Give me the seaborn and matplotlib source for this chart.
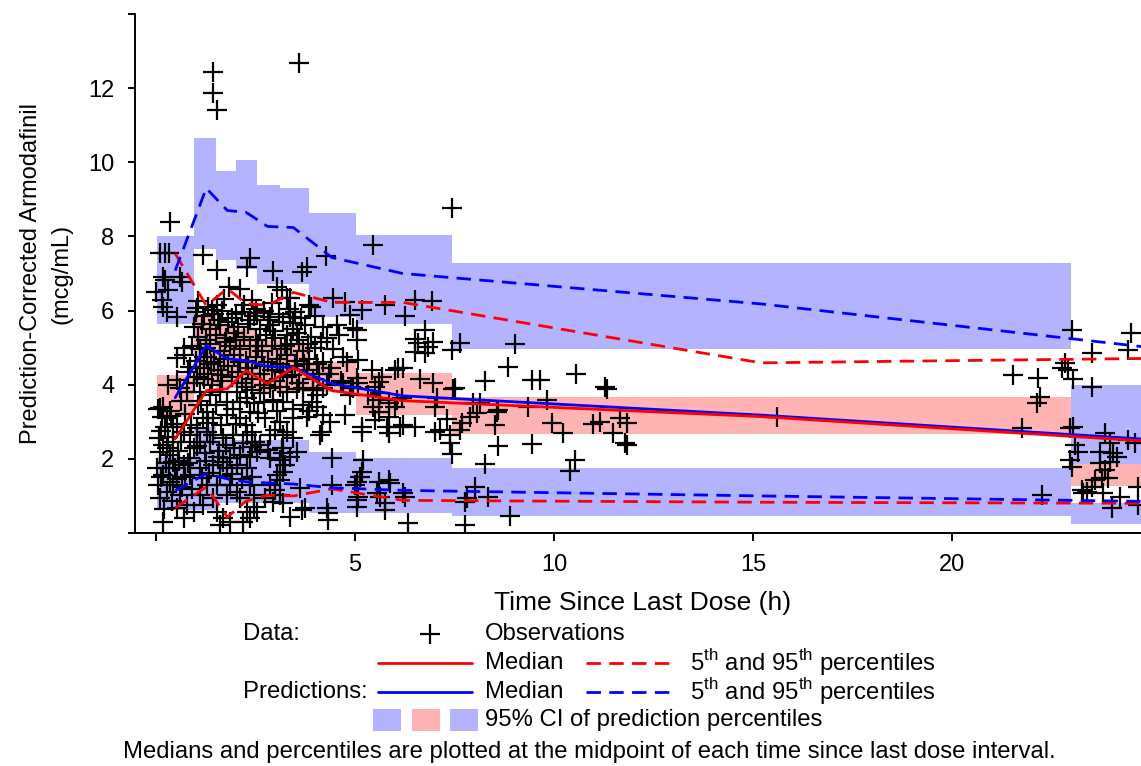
import numpy as np
import pandas as pd
import matplotlib
matplotlib.use("Agg")
import matplotlib.pyplot as plt
import seaborn as sns
from matplotlib.lines import Line2D
from matplotlib.patches import Rectangle

# ---------------- data ----------------
# time-since-last-dose bins (h)
bin_lo = [0.03, 0.96, 1.51, 2.01, 2.54, 3.12, 3.84, 5.02, 7.43, 22.98]
bin_hi = [0.96, 1.51, 2.01, 2.54, 3.12, 3.84, 5.02, 7.43, 22.98, 27.0]
# 95% CI of predicted 95th percentile
ci95_lo = [5.65, 7.65, 7.36, 7.12, 6.73, 6.73, 5.83, 5.65, 4.95, 1.86]
ci95_hi = [8.00, 10.65, 9.76, 10.05, 9.40, 9.30, 8.62, 8.03, 7.27, 4.00]
# 95% CI of predicted median
ci50_lo = [3.14, 4.00, 3.90, 3.90, 3.80, 3.80, 3.80, 3.18, 2.68, 1.27]
ci50_hi = [4.26, 5.90, 5.60, 5.50, 5.20, 5.10, 4.60, 4.31, 3.68, 1.86]
# 95% CI of predicted 5th percentile
ci05_lo = [0.62, 0.62, 0.81, 0.80, 0.80, 0.80, 0.54, 0.54, 0.46, 0.24]
ci05_hi = [2.06, 2.85, 2.50, 2.50, 2.50, 2.50, 2.19, 2.03, 1.76, 0.81]

# bin midpoints and summary lines
line_time = [0.48, 1.26, 1.79, 2.26, 2.80, 3.45, 4.42, 6.20, 15.20, 25.00]
obs_med = [2.54, 3.84, 3.89, 4.38, 4.03, 4.46, 3.84, 3.57, 3.14, 2.47]
obs_p95 = [7.54, 6.14, 6.59, 6.19, 6.14, 6.49, 6.22, 6.22, 4.59, 4.71]
obs_p05 = [0.68, 1.24, 0.43, 0.86, 1.02, 1.00, 1.19, 0.88, 0.83, 0.80]
pred_med = [3.65, 5.05, 4.70, 4.65, 4.49, 4.46, 4.03, 3.70, 3.18, 2.52]
pred_p95 = [7.08, 9.30, 8.70, 8.65, 8.27, 8.24, 7.43, 7.00, 6.18, 5.00]
pred_p05 = [1.14, 1.60, 1.46, 1.38, 1.35, 1.32, 1.22, 1.15, 1.00, 0.85]

# observations (time h, concentration mcg/mL)
obs_points = [
    (1.44, 12.44), (1.44, 11.88), (1.53, 11.41), (3.60, 12.69), (7.43, 8.78), (0.35, 8.40),
    (0.10, 7.55), (0.23, 7.55), (0.33, 7.55), (1.19, 7.50), (1.53, 7.09), (2.36, 7.42),
    (2.28, 7.18), (2.95, 7.08), (3.79, 7.18), (3.66, 7.05), (4.27, 7.47), (5.44, 7.76),
    (0.18, 6.91), (0.60, 6.91), (0.00, 6.50), (0.31, 6.55), (0.14, 6.29), (0.18, 6.10),
    (0.27, 5.97), (0.52, 5.83), (0.65, 6.78), (0.23, 6.82),
    (1.82, 6.64), (2.11, 6.57), (1.02, 6.06), (1.53, 6.15), (1.40, 6.02),
    (3.03, 6.64), (3.16, 6.56), (2.40, 6.29), (3.37, 6.33), (3.83, 6.15), (4.45, 6.33),
    (4.75, 6.24), (4.87, 5.88), (4.96, 5.52), (2.53, 5.93), (2.86, 5.83), (3.37, 5.83),
    (3.45, 5.66),
    (5.17, 6.02), (5.75, 6.15), (6.51, 6.29), (6.93, 6.27), (6.26, 5.85), (6.76, 5.48),
    (6.51, 5.23), (6.59, 5.12), (6.97, 5.16), (6.84, 5.03), (6.51, 4.89), (6.76, 4.85),
    (7.64, 5.13), (7.43, 4.94), (9.02, 5.09), (8.85, 4.47), (6.21, 4.44), (6.63, 4.15),
    (6.97, 4.04), (8.27, 4.11), (9.44, 4.13), (9.65, 4.13), (10.55, 4.29), (11.28, 3.93),
    (11.32, 3.88), (7.47, 3.88), (7.51, 3.92), (6.17, 3.63), (7.05, 3.63), (7.01, 3.41),
    (7.97, 3.50), (8.14, 3.50), (8.06, 3.23), (7.89, 3.14), (8.56, 3.27), (8.60, 3.32),
    (9.35, 3.41), (9.82, 3.59), (7.30, 3.07), (6.13, 2.87), (6.51, 2.87), (7.01, 2.73),
    (7.14, 2.78), (7.39, 2.64), (7.68, 2.96), (7.64, 2.78), (8.52, 2.91), (9.94, 2.98),
    (10.23, 2.69), (10.99, 2.94), (11.16, 3.00), (11.66, 3.09), (11.83, 2.96), (11.49, 2.69),
    (11.78, 2.42), (11.83, 2.37), (7.39, 2.42), (7.43, 2.13), (8.60, 2.35), (9.44, 2.40),
    (8.27, 1.85), (10.53, 1.97), (10.40, 1.68), (8.02, 1.25), (6.26, 0.98), (6.21, 1.07),
    (7.76, 0.84), (7.81, 0.94), (8.35, 0.98), (8.89, 0.47), (6.34, 0.26), (7.76, 0.22),
    (15.60, 3.14),
    (23.01, 5.48), (24.51, 5.40), (24.43, 4.94), (23.51, 4.86), (22.84, 4.58), (22.76, 4.44),
    (22.92, 4.40), (23.05, 4.15), (23.51, 3.95), (21.52, 4.26), (22.17, 4.17), (22.21, 3.68),
    (22.13, 3.50), (21.75, 2.82), (23.05, 2.87), (22.96, 2.82), (23.84, 2.69), (23.97, 2.42),
    (24.05, 2.15), (23.72, 2.19), (24.43, 2.51), (24.60, 2.42), (23.09, 2.37), (23.17, 2.19),
    (22.96, 1.97), (23.01, 1.79), (23.72, 1.88), (23.84, 1.70), (23.97, 1.92), (23.59, 1.43),
    (23.51, 1.25), (23.76, 1.48), (23.93, 1.48), (24.14, 2.06), (24.22, 0.98), (23.80, 1.07),
    (24.68, 1.25), (23.26, 1.16), (23.38, 1.11), (23.30, 1.07), (24.01, 0.67), (22.25, 1.03),
    (24.68, 0.76),
    (5.04, 5.48), (5.04, 5.21), (5.08, 4.67), (5.42, 4.40), (5.67, 4.22), (5.59, 4.08),
    (6.09, 4.44), (6.00, 4.40), (5.04, 4.17), (5.08, 4.04), (5.50, 3.95), (5.63, 3.77),
    (5.33, 3.72), (5.59, 3.59), (5.46, 3.41), (5.84, 3.50), (6.00, 3.41), (6.05, 3.59),
    (5.59, 3.27), (5.50, 3.05), (5.84, 3.14), (5.80, 2.87), (6.21, 2.91), (5.17, 2.87),
    (5.17, 2.73), (5.84, 2.69), (5.21, 1.97), (5.17, 1.65), (5.13, 1.52), (5.59, 1.38),
    (5.84, 1.43), (5.88, 1.34), (5.55, 1.07), (5.63, 0.98), (5.75, 0.80), (5.75, 0.62),
    (5.04, 1.38), (5.08, 0.98), (5.04, 0.71),
    (2.45, 3.50), (2.70, 3.54), (2.95, 3.59), (3.20, 3.54), (3.70, 3.45), (3.91, 3.54),
    (4.04, 3.41), (4.20, 3.18), (4.37, 3.00), (4.16, 2.73), (4.12, 2.64), (4.75, 3.18),
    (2.74, 3.09), (3.12, 3.00), (3.45, 3.09), (3.79, 3.14), (2.99, 2.78), (3.28, 2.73),
    (3.20, 2.64), (3.45, 2.55), (2.49, 2.46), (2.61, 2.37), (2.86, 2.64), (2.40, 2.33),
    (2.53, 2.19), (2.82, 2.24), (3.16, 2.28), (3.20, 2.15), (3.37, 2.06), (3.54, 2.19),
    (3.12, 1.97), (3.24, 1.83), (2.86, 2.01), (4.41, 2.01), (3.20, 1.64), (3.03, 1.56),
    (3.12, 1.43), (2.40, 1.52), (2.86, 1.29), (2.99, 1.16), (3.12, 1.03), (2.74, 0.94),
    (2.95, 0.84), (3.20, 0.80), (2.45, 1.03), (2.45, 0.71), (2.53, 0.57), (3.62, 1.21),
    (3.74, 0.67), (3.66, 0.62), (4.41, 1.29), (4.29, 0.67), (4.33, 0.53), (4.33, 0.35),
    (3.37, 0.44), (5.04, 0.89), (5.00, 1.29), (4.96, 3.90), (4.87, 3.72),
    (2.41, 3.85), (2.62, 3.78), (2.87, 3.90), (3.12, 3.95), (3.28, 3.80), (3.53, 3.88),
    (3.70, 3.92), (3.95, 3.85), (4.20, 3.90), (4.05, 3.72),
    (0.10, 3.36), (0.27, 3.09), (0.60, 3.90), (0.77, 3.81), (1.11, 3.81), (1.36, 3.72),
    (1.61, 3.81), (1.78, 3.54), (2.03, 3.81), (2.11, 3.54), (2.28, 3.63), (2.36, 3.27),
    (2.11, 3.09), (1.78, 3.18), (1.44, 3.09), (1.27, 3.27), (1.06, 3.45), (1.19, 3.09),
    (0.69, 2.73), (0.85, 2.64), (1.02, 2.82), (1.27, 2.73), (1.44, 2.64), (1.69, 2.55),
    (1.94, 2.64), (2.28, 2.64), (1.11, 2.46), (0.43, 2.46), (0.18, 2.37), (0.10, 2.19),
    (0.35, 2.10), (0.43, 1.92), (0.85, 2.01), (0.69, 1.83), (1.11, 1.74), (1.44, 1.83),
    (1.69, 1.92), (1.86, 2.01), (2.11, 2.10), (2.36, 2.06), (2.03, 1.83), (1.78, 1.74),
    (2.28, 1.74), (0.02, 1.74), (0.18, 1.56), (0.35, 1.38), (0.52, 1.47), (0.85, 1.56),
    (0.27, 1.11), (0.10, 0.94), (0.43, 1.29), (0.60, 1.03), (0.77, 0.76), (1.11, 1.03),
    (1.27, 1.29), (1.53, 1.29), (1.86, 1.29), (2.03, 1.11), (2.11, 0.94), (1.78, 1.03),
    (1.44, 0.94), (1.19, 0.76), (1.53, 0.57), (1.69, 0.40), (1.86, 0.30), (1.61, 0.22),
    (2.28, 0.57), (2.36, 0.40), (2.19, 0.30), (0.18, 0.30), (0.69, 0.40), (0.52, 0.67),
    (0.94, 0.57),
    (0.52, 4.71), (0.69, 4.80), (1.27, 4.76), (0.52, 4.13), (1.02, 4.22), (0.18, 3.40),
    (0.15, 3.13), (0.69, 4.99), (0.85, 4.48), (0.30, 4.00), (0.35, 3.30), (0.05, 3.35),
    (0.62, 3.55), (0.42, 2.85), (0.12, 2.75), (0.30, 2.60), (0.55, 2.20), (0.25, 1.90),
    (0.05, 1.30), (0.65, 1.25), (0.40, 0.85), (0.20, 0.65), (0.80, 1.90), (0.90, 1.20),
    (1.05, 6.25), (1.30, 6.10), (1.70, 6.30), (2.20, 6.15), (2.50, 6.05), (2.90, 6.20),
    (3.30, 6.35), (3.90, 6.10),
    (1.00, 5.95), (1.20, 5.85), (1.45, 5.90), (1.65, 6.00), (1.90, 5.80), (2.15, 5.95),
    (2.45, 5.85), (2.70, 6.00), (3.10, 5.90), (3.50, 5.95), (4.00, 5.85),
    (0.95, 5.55), (1.15, 5.65), (1.35, 5.50), (1.60, 5.60), (1.80, 5.70), (2.05, 5.55),
    (2.30, 5.65), (2.60, 5.50), (2.85, 5.60), (3.20, 5.70), (3.45, 5.50), (3.75, 5.60),
    (4.20, 5.55),
    (1.05, 5.30), (1.25, 5.20), (1.50, 5.35), (1.75, 5.25), (1.95, 5.40), (2.20, 5.30),
    (2.50, 5.20), (2.75, 5.35), (3.00, 5.25), (3.30, 5.35), (3.60, 5.20), (3.90, 5.30),
    (4.30, 5.25), (4.60, 5.35),
    (0.90, 5.05), (1.10, 4.95), (1.35, 5.10), (1.60, 4.90), (1.85, 5.05), (2.10, 4.95),
    (2.35, 5.05), (2.65, 4.90), (2.90, 5.05), (3.15, 4.95), (3.40, 5.10), (3.70, 4.90),
    (4.00, 5.00), (4.45, 4.95),
    (1.00, 4.65), (1.20, 4.75), (1.45, 4.60), (1.70, 4.70), (1.95, 4.80), (2.25, 4.65),
    (2.50, 4.75), (2.80, 4.60), (3.05, 4.70), (3.30, 4.80), (3.55, 4.65), (3.85, 4.70),
    (4.20, 4.60), (4.70, 4.75),
    (0.80, 4.35), (1.10, 4.45), (1.30, 4.30), (1.55, 4.40), (1.80, 4.50), (2.05, 4.35),
    (2.30, 4.45), (2.60, 4.30), (2.90, 4.40), (3.20, 4.35), (3.50, 4.50), (3.80, 4.40),
    (4.10, 4.30), (4.40, 4.45),
    (0.95, 4.05), (1.20, 4.15), (1.40, 4.00), (1.65, 4.10), (1.90, 4.20), (2.15, 4.05),
    (2.40, 4.15), (2.70, 4.00), (3.00, 4.10), (3.30, 4.20), (3.60, 4.05), (3.95, 4.15),
    (4.30, 4.00), (4.65, 4.10),
    (4.55, 5.60), (4.80, 4.60), (4.35, 4.30), (4.70, 4.05), (4.90, 3.95),
    (1.02, 2.35), (1.22, 2.15), (1.35, 2.45), (1.58, 2.20), (1.75, 2.38), (1.96, 2.28),
    (2.18, 2.42), (2.42, 2.72), (1.15, 1.48), (1.32, 1.62), (1.60, 1.55), (1.90, 1.60),
    (2.15, 1.45), (2.35, 1.30), (1.25, 1.95), (1.55, 2.05), (2.00, 2.95), (1.62, 2.90),
    (1.30, 2.98), (2.25, 2.92),
    (0.08, 2.55), (0.22, 2.85), (0.38, 3.15), (0.52, 2.95), (0.72, 3.20), (0.88, 2.90),
    (0.62, 2.45), (0.28, 2.30), (0.48, 1.75), (0.72, 1.50), (0.12, 1.50), (0.32, 1.75),
    (0.58, 1.95), (0.95, 2.30),
    (1.12, 3.55), (1.50, 3.45), (1.92, 3.35), (2.25, 3.95), (2.55, 3.25), (3.05, 3.30),
    (3.45, 3.35), (3.85, 3.30), (1.38, 4.55), (1.62, 4.25), (2.12, 4.60), (2.42, 4.30),
    (2.72, 4.50), (3.12, 4.55), (3.42, 4.25), (3.72, 4.55), (4.05, 4.55), (1.25, 5.00),
    (1.72, 5.15), (2.02, 5.20), (2.55, 5.05), (2.95, 5.45), (3.25, 5.05), (3.55, 5.40),
    (3.82, 5.10), (4.15, 5.15), (1.55, 5.75), (2.00, 5.90), (2.35, 5.75), (2.80, 5.75),
    (3.35, 6.05), (3.65, 5.80),
]
obs_time = [p[0] for p in obs_points]
obs_conc = [p[1] for p in obs_points]

# ---------------- style ----------------
sns.set_theme(style="ticks")
FONT = ["Liberation Sans", "DejaVu Sans"]
plt.rcParams["font.family"] = FONT
plt.rcParams["mathtext.fontset"] = "custom"
plt.rcParams["mathtext.rm"] = "Liberation Sans"
for k in ["text.color", "axes.labelcolor", "xtick.color", "ytick.color", "axes.edgecolor"]:
    plt.rcParams[k] = "black"

BLUE_FILL = "#b3b3ff"
RED_FILL = "#ffb3b3"
LW = 2.0
DASH = (0, (5.2, 3.0))

W, H = 1141, 766
fig = plt.figure(figsize=(W / 100, H / 100), dpi=100)
ax = fig.add_axes([135 / W, 1 - 533 / H, (1151 - 135) / W, (533 - 14) / H])

# CI boxes
lo = np.array(bin_lo); hi = np.array(bin_hi)
ax.bar(lo, np.array(ci50_hi) - np.array(ci50_lo), bottom=ci50_lo, width=hi - lo,
       align="edge", color=RED_FILL, linewidth=0, zorder=1)
ax.bar(lo, np.array(ci95_hi) - np.array(ci95_lo), bottom=ci95_lo, width=hi - lo,
       align="edge", color=BLUE_FILL, linewidth=0, zorder=1)
ax.bar(lo, np.array(ci05_hi) - np.array(ci05_lo), bottom=ci05_lo, width=hi - lo,
       align="edge", color=BLUE_FILL, linewidth=0, zorder=1)

# observations
sns.scatterplot(x=obs_time, y=obs_conc, marker="+", s=210, color="black",
                linewidth=1.6, ax=ax, zorder=2, legend=False)

# summary lines
def draw(y, color, ls):
    sns.lineplot(x=line_time, y=y, color=color, linewidth=LW, linestyle=ls,
                 ax=ax, zorder=3, errorbar=None, sort=False, legend=False)

draw(obs_p95, "red", DASH)
draw(obs_p05, "red", DASH)
draw(pred_p95, "blue", DASH)
draw(pred_p05, "blue", DASH)
draw(pred_med, "blue", "-")
draw(obs_med, "red", "-")

ax.set_xlim(-0.53, 25.0)
ax.set_ylim(0, 14)
ax.set_xticks([0, 5, 10, 15, 20, 25])
ax.set_xticklabels(["", "5", "10", "15", "20", ""])
ax.set_yticks([0, 2, 4, 6, 8, 10, 12, 14])
ax.set_yticklabels(["", "2", "4", "6", "8", "10", "12", ""])
for s in ["top", "right"]:
    ax.spines[s].set_visible(False)
for s in ["left", "bottom"]:
    ax.spines[s].set_linewidth(1.4)
    ax.spines[s].set_color("black")
ax.tick_params(axis="both", colors="black", width=1.4, labelsize=17)
ax.tick_params(axis="x", length=6, pad=9)
ax.tick_params(axis="y", length=5, pad=10)
ax.set_xlabel("Time Since Last Dose (h)", fontsize=19, color="black", labelpad=11)
ax.set_ylabel("Prediction-Corrected Armodafinil\n(mcg/mL)", fontsize=17,
              color="black", linespacing=1.45)
ax.yaxis.set_label_coords(-63 / (1151 - 135), 0.5)
ax.grid(False)

# ---------------- legend (figure coordinates) ----------------
def fx(px): return px / W
def fy(py): return 1 - py / H

TS = 17.2
r1, r2, r3, r4, r5 = 634, 663, 692, 720, 752
fig.text(fx(243), fy(r1), "Data:", fontsize=TS, va="center", ha="left")
fig.add_artist(Line2D([fx(430)], [fy(r1)], marker="+", markersize=14, mew=1.6,
                      color="black", transform=fig.transFigure))
fig.text(fx(485), fy(r1), "Observations", fontsize=TS, va="center", ha="left")

for row, col in [(r2, "red"), (r3, "blue")]:
    fig.add_artist(Line2D([fx(378), fx(472)], [fy(row), fy(row)], color=col, lw=LW,
                          transform=fig.transFigure))
    fig.text(fx(485), fy(row), "Median", fontsize=TS, va="center", ha="left")
    fig.add_artist(Line2D([fx(586), fx(672)], [fy(row), fy(row)], color=col, lw=LW,
                          linestyle=DASH, transform=fig.transFigure))
    fig.text(fx(690), fy(row), r"5$^{\mathrm{th}}$ and 95$^{\mathrm{th}}$ percentiles",
             fontsize=TS, va="center", ha="left")
fig.text(fx(243), fy(r3), "Predictions:", fontsize=TS, va="center", ha="left")

for x0, col in [(373, BLUE_FILL), (412, RED_FILL), (450, BLUE_FILL)]:
    fig.add_artist(Rectangle((fx(x0), fy(r4 + 11)), 28 / W, 22 / H, color=col,
                             transform=fig.transFigure, linewidth=0))
fig.text(fx(485), fy(r4), "95% CI of prediction percentiles", fontsize=TS,
         va="center", ha="left")
fig.text(fx(589), fy(r5),
         "Medians and percentiles are plotted at the midpoint of each time since last dose interval.",
         fontsize=TS, va="center", ha="center")

fig.savefig("out.png", dpi=100)
